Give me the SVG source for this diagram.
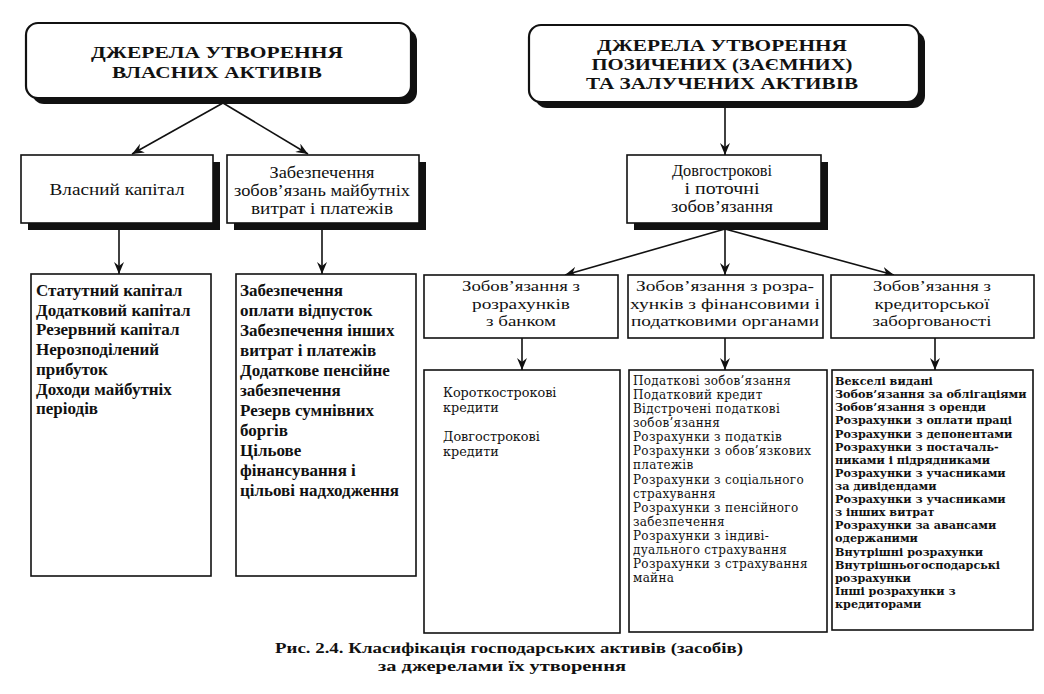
<svg xmlns="http://www.w3.org/2000/svg" width="1044" height="694" viewBox="0 0 1044 694">
<style>
.bg{fill:#ffffff}
.box{fill:#ffffff;stroke:#111;stroke-width:1.6}
.hdr{fill:#ffffff;stroke:#111;stroke-width:2.2}
.shd{fill:#111}
.ln{stroke:#111;stroke-width:1.6;fill:none}
.h{font-family:"Liberation Serif","DejaVu Serif",serif;font-weight:bold;font-size:17px;fill:#111;text-anchor:middle}
.t2{font-family:"Liberation Serif","DejaVu Serif",serif;font-size:16px;fill:#111;text-anchor:middle}
.t3{font-family:"Liberation Serif","DejaVu Serif",serif;font-size:15.5px;fill:#111;text-anchor:middle}
.lb{font-family:"Liberation Serif","DejaVu Serif",serif;font-weight:bold;font-size:17px;fill:#111}
.la{font-family:"DejaVu Serif","Liberation Serif",serif;font-size:12.8px;fill:#111}
.lr{font-family:"DejaVu Serif","Liberation Serif",serif;font-size:12px;letter-spacing:0.3px;fill:#111}
.lc{font-family:"DejaVu Serif","Liberation Serif",serif;font-weight:bold;font-size:11.2px;fill:#111}
.cap{font-family:"Liberation Serif","DejaVu Serif",serif;font-weight:bold;font-size:15.5px;fill:#111;text-anchor:middle}
</style>
<defs>
<marker id="ah" viewBox="0 0 12 10" refX="12" refY="5" markerWidth="12" markerHeight="10" markerUnits="userSpaceOnUse" orient="auto">
<path d="M0,0 L12,5 L0,10 L4,5 z" fill="#111"/>
</marker>
</defs>
<rect class="bg" x="0" y="0" width="1044" height="694"/>

<g id="connectors">
<line class="ln" x1="223" y1="103" x2="132" y2="154" marker-end="url(#ah)"/>
<line class="ln" x1="223" y1="103" x2="308" y2="154" marker-end="url(#ah)"/>
<line class="ln" x1="119" y1="230" x2="119" y2="274" marker-end="url(#ah)"/>
<line class="ln" x1="322" y1="230" x2="322" y2="274" marker-end="url(#ah)"/>
<line class="ln" x1="725" y1="107" x2="725" y2="155" marker-end="url(#ah)"/>
<line class="ln" x1="725" y1="229" x2="565" y2="275" marker-end="url(#ah)"/>
<line class="ln" x1="725" y1="229" x2="725" y2="275" marker-end="url(#ah)"/>
<line class="ln" x1="725" y1="229" x2="894" y2="275" marker-end="url(#ah)"/>
<line class="ln" x1="522" y1="338" x2="522" y2="370" marker-end="url(#ah)"/>
<line class="ln" x1="725" y1="338" x2="725" y2="370" marker-end="url(#ah)"/>
<line class="ln" x1="935" y1="338" x2="935" y2="370" marker-end="url(#ah)"/>
</g>

<g id="hdr-own">
<rect class="shd" x="32" y="29" width="385" height="75" rx="12"/>
<rect class="hdr" x="26" y="23" width="385" height="75" rx="12"/>
<text class="h" x="217" y="58" textLength="252" lengthAdjust="spacingAndGlyphs">ДЖЕРЕЛА УТВОРЕННЯ</text>
<text class="h" x="217" y="77.5" textLength="210" lengthAdjust="spacingAndGlyphs">ВЛАСНИХ АКТИВІВ</text>
</g>

<g id="hdr-borrowed">
<rect class="shd" x="535" y="31" width="390" height="77" rx="12"/>
<rect class="hdr" x="529" y="25" width="390" height="77" rx="12"/>
<text class="h" x="722" y="51" textLength="250" lengthAdjust="spacingAndGlyphs">ДЖЕРЕЛА УТВОРЕННЯ</text>
<text class="h" x="722" y="70" textLength="261" lengthAdjust="spacingAndGlyphs">ПОЗИЧЕНИХ (ЗАЄМНИХ)</text>
<text class="h" x="722" y="89" textLength="272" lengthAdjust="spacingAndGlyphs">ТА ЗАЛУЧЕНИХ АКТИВІВ</text>
</g>

<g id="own-capital">
<rect class="shd" x="28" y="162" width="192" height="68"/>
<rect class="box" x="21" y="155" width="192" height="68"/>
<text class="t2" x="117" y="195" textLength="135" lengthAdjust="spacingAndGlyphs">Власний капітал</text>
</g>

<g id="provisions">
<rect class="shd" x="234" y="162" width="192" height="68"/>
<rect class="box" x="227" y="155" width="192" height="68"/>
<text class="t2" x="322" y="178" textLength="105" lengthAdjust="spacingAndGlyphs">Забезпечення</text>
<text class="t2" x="322" y="196" textLength="176" lengthAdjust="spacingAndGlyphs">зобов’язань майбутніх</text>
<text class="t2" x="322" y="214" textLength="142" lengthAdjust="spacingAndGlyphs">витрат і платежів</text>
</g>

<g id="liabilities">
<rect class="shd" x="634" y="162" width="194" height="68"/>
<rect class="box" x="627" y="155" width="194" height="68"/>
<text class="t2" x="722" y="176" textLength="100" lengthAdjust="spacingAndGlyphs">Довгострокові</text>
<text class="t2" x="722" y="194" textLength="75" lengthAdjust="spacingAndGlyphs">і поточні</text>
<text class="t2" x="722" y="212" textLength="102" lengthAdjust="spacingAndGlyphs">зобов’язання</text>
</g>

<g id="bank">
<rect class="box" x="424" y="275" width="194" height="63"/>
<text class="t3" x="521" y="291" textLength="118" lengthAdjust="spacingAndGlyphs">Зобов’язання з</text>
<text class="t3" x="521" y="308.5" textLength="98" lengthAdjust="spacingAndGlyphs">розрахунків</text>
<text class="t3" x="521" y="326" textLength="70" lengthAdjust="spacingAndGlyphs">з банком</text>
</g>

<g id="fiscal">
<rect class="box" x="628" y="275" width="195" height="63"/>
<text class="t3" x="725" y="291" textLength="178" lengthAdjust="spacingAndGlyphs">Зобов’язання з розра-</text>
<text class="t3" x="725" y="308.5" textLength="190" lengthAdjust="spacingAndGlyphs">хунків з фінансовими і</text>
<text class="t3" x="725" y="326" textLength="188" lengthAdjust="spacingAndGlyphs">податковими органами</text>
</g>

<g id="creditors">
<rect class="box" x="831" y="275" width="203" height="63"/>
<text class="t3" x="932" y="291" textLength="118" lengthAdjust="spacingAndGlyphs">Зобов’язання з</text>
<text class="t3" x="932" y="308.5" textLength="115" lengthAdjust="spacingAndGlyphs">кредиторської</text>
<text class="t3" x="932" y="326" textLength="119" lengthAdjust="spacingAndGlyphs">заборгованості</text>
</g>

<g id="list-capital">
<rect class="box" x="31" y="274" width="180" height="302"/>
<text class="lb" x="36" y="296">Статутний капітал</text>
<text class="lb" x="36" y="315.7">Додатковий капітал</text>
<text class="lb" x="36" y="335.4">Резервний капітал</text>
<text class="lb" x="36" y="355.1">Нерозподілений</text>
<text class="lb" x="36" y="374.8">прибуток</text>
<text class="lb" x="36" y="394.5">Доходи майбутніх</text>
<text class="lb" x="36" y="414.2">періодів</text>
</g>

<g id="list-provisions">
<rect class="box" x="236" y="274" width="180" height="302"/>
<text class="lb" x="240" y="296">Забезпечення</text>
<text class="lb" x="240" y="316">оплати відпусток</text>
<text class="lb" x="240" y="336">Забезпечення інших</text>
<text class="lb" x="240" y="356">витрат і платежів</text>
<text class="lb" x="240" y="376">Додаткове пенсійне</text>
<text class="lb" x="240" y="396">забезпечення</text>
<text class="lb" x="240" y="416">Резерв сумнівних</text>
<text class="lb" x="240" y="436">боргів</text>
<text class="lb" x="240" y="456">Цільове</text>
<text class="lb" x="240" y="476">фінансування і</text>
<text class="lb" x="240" y="496">цільові надходження</text>
</g>

<g id="list-bank">
<rect class="box" x="424" y="370" width="196" height="263"/>
<text class="la" x="443" y="397">Короткострокові</text>
<text class="la" x="443" y="412">кредити</text>
<text class="la" x="443" y="441">Довгострокові</text>
<text class="la" x="443" y="456">кредити</text>
</g>

<g id="list-fiscal">
<rect class="box" x="629" y="370" width="198" height="262"/>
<text class="lr" x="633" y="385">Податкові зобов’язання</text>
<text class="lr" x="633" y="399.1">Податковий кредит</text>
<text class="lr" x="633" y="413.1">Відстрочені податкові</text>
<text class="lr" x="633" y="427.2">зобов’язання</text>
<text class="lr" x="633" y="441.3">Розрахунки з податків</text>
<text class="lr" x="633" y="455.4">Розрахунки з обов’язкових</text>
<text class="lr" x="633" y="469.4">платежів</text>
<text class="lr" x="633" y="483.5">Розрахунки з соціального</text>
<text class="lr" x="633" y="497.6">страхування</text>
<text class="lr" x="633" y="511.6">Розрахунки з пенсійного</text>
<text class="lr" x="633" y="525.7">забезпечення</text>
<text class="lr" x="633" y="539.8">Розрахунки з індиві-</text>
<text class="lr" x="633" y="553.8">дуального страхування</text>
<text class="lr" x="633" y="567.9">Розрахунки з страхування</text>
<text class="lr" x="633" y="582">майна</text>
</g>

<g id="list-creditors">
<rect class="box" x="832" y="370" width="201" height="260"/>
<text class="lc" x="835" y="385">Векселі видані</text>
<text class="lc" x="835" y="398.1">Зобов’язання за облігаціями</text>
<text class="lc" x="835" y="411.2">Зобов’язання з оренди</text>
<text class="lc" x="835" y="424.4">Розрахунки з оплати праці</text>
<text class="lc" x="835" y="437.5">Розрахунки з депонентами</text>
<text class="lc" x="835" y="450.6">Розрахунки з постачаль-</text>
<text class="lc" x="835" y="463.7">никами і підрядниками</text>
<text class="lc" x="835" y="476.8">Розрахунки з учасниками</text>
<text class="lc" x="835" y="490">за дивідендами</text>
<text class="lc" x="835" y="503.1">Розрахунки з учасниками</text>
<text class="lc" x="835" y="516.2">з інших витрат</text>
<text class="lc" x="835" y="529.3">Розрахунки за авансами</text>
<text class="lc" x="835" y="542.4">одержаними</text>
<text class="lc" x="835" y="555.6">Внутрішні розрахунки</text>
<text class="lc" x="835" y="568.7">Внутрішньогосподарські</text>
<text class="lc" x="835" y="581.8">розрахунки</text>
<text class="lc" x="835" y="594.9">Інші розрахунки з</text>
<text class="lc" x="835" y="608">кредиторами</text>
</g>

<g id="caption">
<text class="cap" x="509" y="653" textLength="468" lengthAdjust="spacingAndGlyphs">Рис. 2.4. Класифікація господарських активів (засобів)</text>
<text class="cap" x="502" y="671" textLength="248" lengthAdjust="spacingAndGlyphs">за джерелами їх утворення</text>
</g>
</svg>
